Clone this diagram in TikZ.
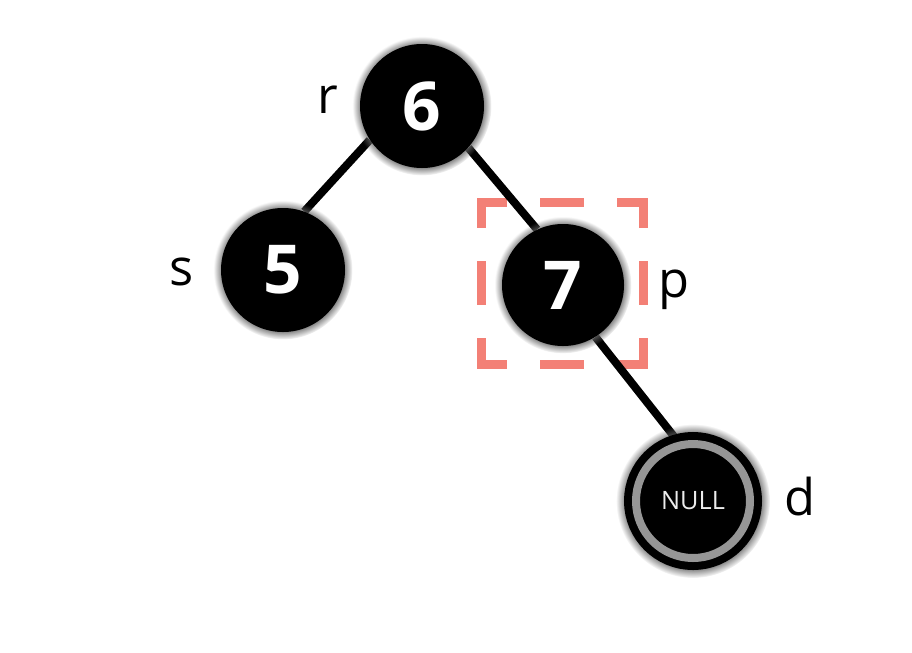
\documentclass[tikz,border=0pt]{standalone}
\usepackage{fontspec}
\setmainfont{Open Sans}
\usepackage{tikz}
\usetikzlibrary{shadows, fadings, backgrounds}
\definecolor{rougeSel}{RGB}{243, 128, 118}
\definecolor{grisAnneau}{RGB}{150, 150, 150}
\definecolor{blancNull}{RGB}{236, 236, 236}

\begin{document}
\begin{tikzpicture}[
  cle/.style={circle, fill=black, minimum size=3.1cm, inner sep=0pt,
    text=white, font=\fontsize{48}{48}\selectfont\bfseries,
    circular glow={fill=black!60, shadow scale=1.12}},
  nul/.style={circle, fill=black, draw=black, line width=0.2cm,
    double=grisAnneau, double distance=0.2cm, minimum size=2.85cm,
    inner sep=0pt, text=blancNull, font=\fontsize{18}{18}\selectfont,
    circular glow={fill=black!60, shadow scale=1.35}},
  lien/.style={line width=0.2cm, draw=black},
  etiq/.style={font=\fontsize{36}{36}\selectfont, inner sep=0pt},
  sel/.style={draw=rougeSel, line width=0.225cm, line cap=rect,
    dash pattern=on 1.075cm off 1.05cm on 0.875cm off 1.05cm,
    dash phase=0.5375cm,
    minimum width=4.05cm, minimum height=4.05cm, inner sep=0pt},
]
\useasboundingbox (0,0) rectangle (22.8,-16.3);
\node[cle] (n6) at (10.55, -2.65)  {6};
\node[cle] (n5) at (7.075, -6.75)  {5};
\node[cle, minimum size=3.05cm] (n7) at (14.075, -7.125) {7};
\node[nul] (nul) at (17.325, -12.525) {NULL};
\node[etiq] (lr) at (8.2,  -2.49)  {r};
\node[etiq] (ls) at (4.54, -6.79)  {s};
\node[etiq] (lp) at (16.85, -7.24) {p};
\node[etiq] (ld) at (20.0, -12.425) {d};
\begin{scope}[on background layer]
\node[sel] (boite) at (14.06, -7.075) {};
\draw[lien] (n6.213) -- (n5.70);
\draw[lien] (n6.318) -- (n7.115);
\draw[lien] (n7.302) -- (nul.104);
\end{scope}
\end{tikzpicture}
\end{document}
